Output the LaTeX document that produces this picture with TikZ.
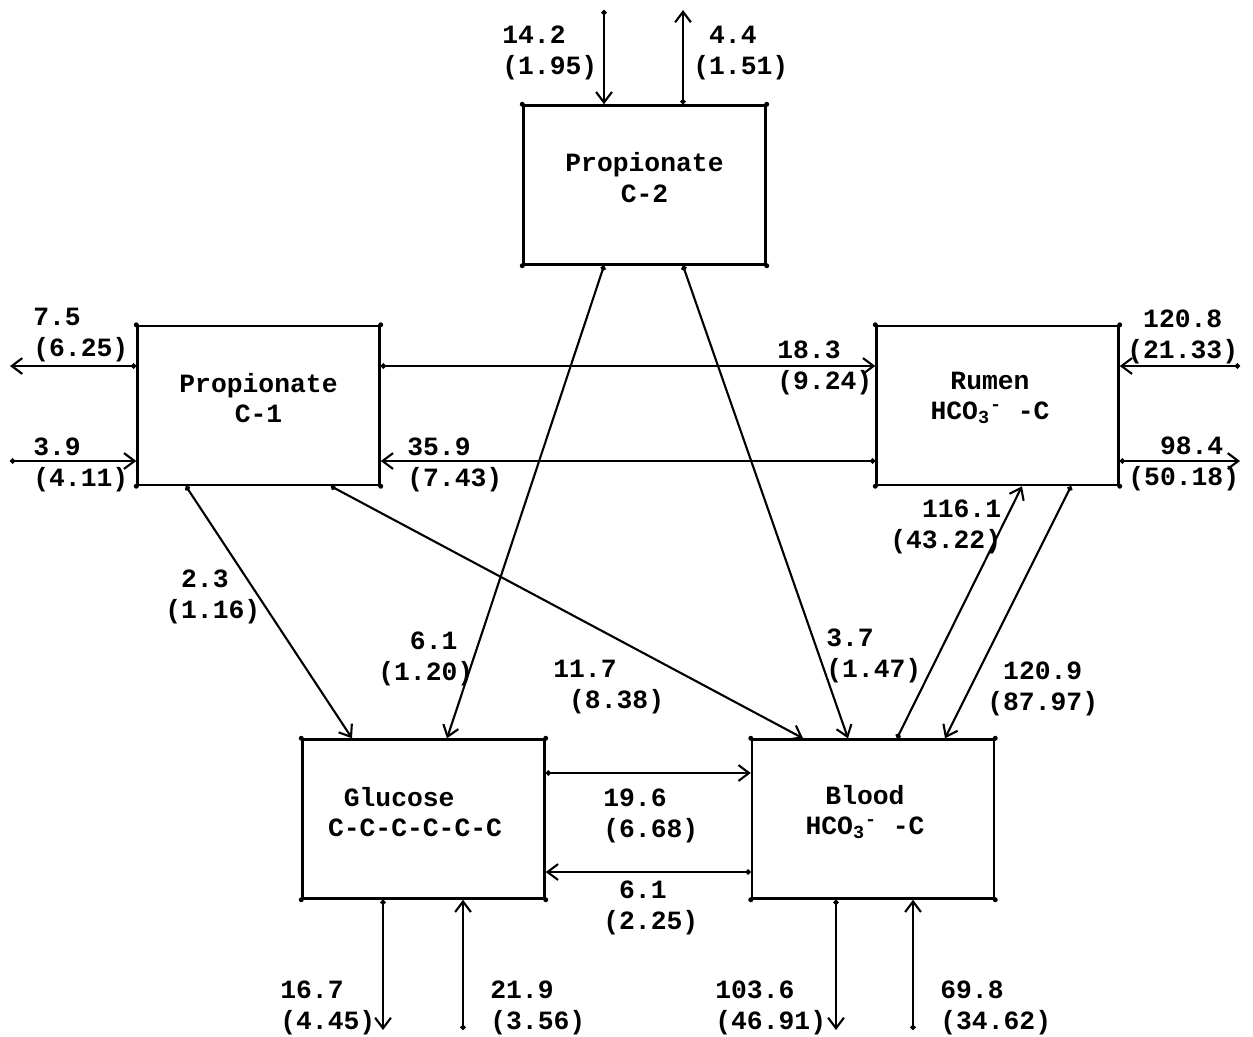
\documentclass[tikz,border=0pt]{standalone}
\usepackage{fontspec}
\setmainfont{Liberation Mono}
\usepackage{tikz}
\usetikzlibrary{arrows.meta,positioning}
\newcommand{\pad}{\phantom{0}}
\newcommand{\hco}{HCO\textsubscript{3}\textsuperscript{-} -C}

\begin{document}
\begin{tikzpicture}[font=\fontsize{15}{17.3}\selectfont\bfseries]
\tikzstyle{pool}=[rectangle,draw,line width=1.4pt,minimum width=4.84cm,minimum height=3.18cm,inner sep=0pt]
\tikzstyle{pooltext}=[align=center,inner sep=0pt]
\tikzstyle{flux}=[align=left,anchor=base west,inner sep=0pt]
\tikzstyle{flow}=[line width=1.2pt,{Circle[length=3pt]}-{Straight Barb[length=6pt,width=9pt]}]
\useasboundingbox (0,0) rectangle (25.06,-20.72);

% pools
\node[pool] (c2) at (12.89,-3.70) {};
\node[pool] (c1) at (5.17,-8.11) {};
\node[pool] (rumen) at (19.95,-8.11) {};
\node[pool] (glucose) at (8.47,-16.38) {};
\node[pool] (blood) at (17.46,-16.38) {};

\node[pooltext] (c2t) at ([yshift=0.15cm]c2.center) {Propionate\\C-2};
\node[pooltext] (c1t) at ([yshift=0.15cm]c1.center) {Propionate\\C-1};
\node[pooltext] (rument) at ([xshift=-0.15cm,yshift=0.15cm]rumen.center) {Rumen\\\hco};
\node[pooltext,align=left] (glucoset) at ([xshift=-0.17cm,yshift=0.14cm]glucose.center) {\pad Glucose\\C-C-C-C-C-C};
\node[pooltext] (bloodt) at ([xshift=-0.16cm,yshift=0.14cm]blood.center) {Blood\\\hco};

\foreach \n in {c2,c1,rumen,glucose,blood}
  \foreach \a in {north west,north east,south west,south east}
    \fill (\n.\a) circle (0.05);

% free ends
\coordinate (c2in) at (12.08,-0.2);
\coordinate (c2out) at (13.66,-0.2);
\coordinate (c1out) at (0.2,-7.32);
\coordinate (c1in) at (0.2,-9.22);
\coordinate (rumenin) at (24.8,-7.32);
\coordinate (rumenout) at (24.8,-9.22);
\coordinate (glucoseout) at (7.66,-20.6);
\coordinate (glucosein) at (9.26,-20.6);
\coordinate (bloodout) at (16.72,-20.6);
\coordinate (bloodin) at (18.26,-20.6);

% flows
\draw[flow] (c2in) -- (c2in |- c2.north);
\draw[flow] (c2out |- c2.north) -- (c2out);
\draw[flow] (c1out -| c1.west) -- (c1out);
\draw[flow] (c1in) -- (c1in -| c1.west);
\draw[flow] (c1out -| c1.east) -- (c1out -| rumen.west);
\draw[flow] (c1in -| rumen.west) -- (c1in -| c1.east);
\draw[flow] (rumenin) -- (rumenin -| rumen.east);
\draw[flow] (rumenout -| rumen.east) -- (rumenout);
\draw[flow] (c2in |- c2.south) -- ([xshift=0.47cm]glucose.north);
\draw[flow] (c2out |- c2.south) -- ([xshift=-0.5cm]blood.north);
\draw[flow] ([xshift=-1.45cm]c1.south) -- ([xshift=-1.43cm]glucose.north);
\draw[flow] ([xshift=1.45cm]c1.south) -- ([xshift=-1.4cm]blood.north);
\draw[flow] ([xshift=0.48cm]blood.north) -- ([xshift=0.49cm]rumen.south);
\draw[flow] ([xshift=1.47cm]rumen.south) -- ([xshift=1.44cm]blood.north);
\draw[flow] ([yshift=0.92cm]glucose.east) -- ([yshift=0.92cm]blood.west);
\draw[flow] ([yshift=-1.06cm]blood.west) -- ([yshift=-1.06cm]glucose.east);
\draw[flow] (glucoseout |- glucose.south) -- (glucoseout);
\draw[flow] (glucosein) -- (glucosein |- glucose.south);
\draw[flow] (bloodout |- blood.south) -- (bloodout);
\draw[flow] (bloodin) -- (bloodin |- blood.south);

% flux labels
\node[flux] (l1) at (10.04,-1.48) {14.2\\(1.95)};
\node[flux] (l2) at (13.86,-1.48) {\pad 4.4\\(1.51)};
\node[flux] (l3) at (0.66,-7.12) {7.5\\(6.25)};
\node[flux] (l4) at (0.66,-9.72) {3.9\\(4.11)};
\node[flux] (l5) at (15.54,-7.78) {18.3\\(9.24)};
\node[flux] (l6) at (8.14,-9.72) {35.9\\(7.43)};
\node[flux] (l7) at (22.54,-7.16) {\pad 120.8\\(21.33)};
\node[flux] (l8) at (22.56,-9.70) {\pad\pad 98.4\\(50.18)};
\node[flux] (l9) at (17.80,-10.96) {\pad\pad 116.1\\(43.22)};
\node[flux] (l10) at (3.30,-12.36) {\pad 2.3\\(1.16)};
\node[flux] (l11) at (7.56,-13.60) {\pad\pad 6.1\\(1.20)};
\node[flux] (l12) at (11.06,-14.16) {11.7\\\pad(8.38)};
\node[flux] (l13) at (16.52,-13.54) {3.7\\(1.47)};
\node[flux] (l14) at (19.74,-14.20) {\pad 120.9\\(87.97)};
\node[flux] (l15) at (12.06,-16.74) {19.6\\(6.68)};
\node[flux] (l16) at (12.06,-18.58) {\pad 6.1\\(2.25)};
\node[flux] (l17) at (5.60,-20.58) {16.7\\(4.45)};
\node[flux] (l18) at (9.80,-20.58) {21.9\\(3.56)};
\node[flux] (l19) at (14.30,-20.58) {103.6\\(46.91)};
\node[flux] (l20) at (18.80,-20.58) {69.8\\(34.62)};
\end{tikzpicture}
\end{document}
